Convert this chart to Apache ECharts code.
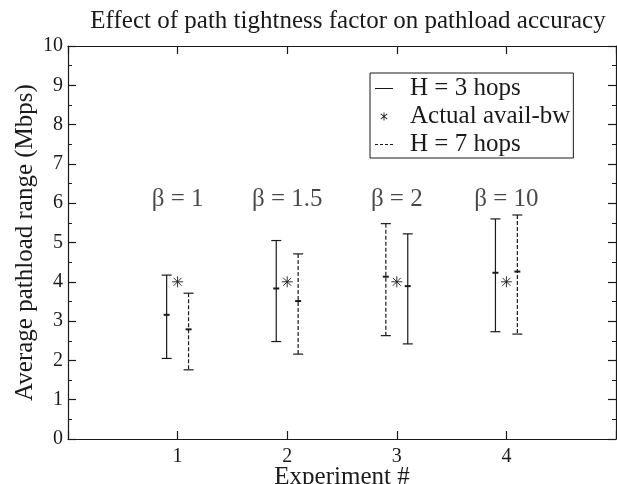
<!DOCTYPE html>
<html>
<head>
<meta charset="utf-8">
<script src="https://cdn.jsdelivr.net/npm/echarts@6/dist/echarts.min.js"></script>
<style>
  html, body { margin: 0; padding: 0; background: #fff; }
  #main { width: 617px; height: 484px; }
</style>
</head>
<body>
<div id="main"></div>
<script>
// 數據
const experiments = [1, 2, 3, 4];
const betaLabels = ['β = 1', 'β = 1.5', 'β = 2', 'β = 10'];
const betaY = [6.1, 6.1, 6.1, 6.1];

// H = 3 hops (實線)
const h3X = [0.9, 1.9, 3.1, 3.9];
const h3Low = [2.05, 2.48, 2.42, 2.73];
const h3Mid = [3.16, 3.83, 3.89, 4.23];
const h3High = [4.17, 5.05, 5.22, 5.60];

// H = 7 hops (虛線)
const h7X = [1.1, 2.1, 2.9, 4.1];
const h7Low = [1.76, 2.16, 2.63, 2.67];
const h7Mid = [2.79, 3.51, 4.13, 4.26];
const h7High = [3.71, 4.71, 5.48, 5.70];

// 實際可用頻寬
const availBw = [4.0, 4.0, 4.0, 4.0];

const yTicks = [0, 1, 2, 3, 4, 5, 6, 7, 8, 9, 10];

const font = 'Liberation Serif';
const ink = '#1a1a1a';

const myChart = echarts.init(document.getElementById('main'));

// 誤差棒
function errorBar(dashed) {
    return function (params, api) {
        const x = api.value(0);
        const top = api.coord([x, api.value(3)]);
        const mid = api.coord([x, api.value(2)]);
        const bot = api.coord([x, api.value(1)]);
        const style = { stroke: ink, lineWidth: 1.2, lineDash: dashed ? [4, 2] : null };
        const cap = { stroke: ink, lineWidth: 1.2 };
        return {
            type: 'group',
            children: [
                { type: 'line', shape: { x1: top[0], y1: top[1], x2: bot[0], y2: bot[1] }, style: style },
                { type: 'line', shape: { x1: top[0] - 5, y1: top[1], x2: top[0] + 5, y2: top[1] }, style: cap },
                { type: 'line', shape: { x1: bot[0] - 5, y1: bot[1], x2: bot[0] + 5, y2: bot[1] }, style: cap },
                { type: 'line', shape: { x1: mid[0] - 3, y1: mid[1], x2: mid[0] + 3, y2: mid[1] }, style: { stroke: ink, lineWidth: 2 } }
            ]
        };
    };
}

// 星號
function asterisk(params, api) {
    const p = api.coord([api.value(0), api.value(1)]);
    const r = 5.5;
    const d = r * 0.72;
    const s = { stroke: ink, lineWidth: 0.9 };
    return {
        type: 'group',
        children: [
            { type: 'line', shape: { x1: p[0], y1: p[1] - r, x2: p[0], y2: p[1] + r }, style: s },
            { type: 'line', shape: { x1: p[0] - r, y1: p[1], x2: p[0] + r, y2: p[1] }, style: s },
            { type: 'line', shape: { x1: p[0] - d, y1: p[1] - d, x2: p[0] + d, y2: p[1] + d }, style: s },
            { type: 'line', shape: { x1: p[0] - d, y1: p[1] + d, x2: p[0] + d, y2: p[1] - d }, style: s }
        ]
    };
}

const h3Data = h3X.map((x, i) => [x, h3Low[i], h3Mid[i], h3High[i]]);
const h7Data = h7X.map((x, i) => [x, h7Low[i], h7Mid[i], h7High[i]]);
const bwData = experiments.map((x, i) => [x, availBw[i]]);
const betaData = experiments.map((x, i) => [x, betaY[i]]);

const axisLine = { show: true, onZero: false, lineStyle: { color: ink, width: 1.2 } };
const tick = { show: true, inside: true, length: 8, lineStyle: { color: ink, width: 1.2 } };
const minor = { show: true, splitNumber: 2, length: 4, lineStyle: { color: ink, width: 1 } };

const option = {
    animation: false,
    backgroundColor: '#fff',
    title: {
        text: 'Effect of path tightness factor on pathload accuracy',
        left: 343,
        top: 4,
        textAlign: 'center',
        textStyle: { fontFamily: font, fontSize: 25, fontWeight: 'normal', color: ink }
    },
    legend: {
        orient: 'vertical',
        left: 370,
        top: 73,
        padding: [3, 3, 1, 5],
        itemGap: 3,
        itemWidth: 18,
        itemHeight: 8,
        borderColor: ink,
        borderWidth: 1,
        textStyle: { fontFamily: font, fontSize: 25, color: ink, padding: [0, 0, 0, 12] },
        data: [
            { name: 'H = 3 hops', icon: 'path://M0,0h18v1h-18z', itemStyle: { color: ink } },
            { name: 'Actual avail-bw', icon: 'path://M8,0h2v18h-2z M1.2,3.8L2.2,2.1L16.8,14.2L15.8,15.9z M15.8,2.1L16.8,3.8L2.2,15.9L1.2,14.2z', itemStyle: { color: ink } },
            { name: 'H = 7 hops', icon: 'path://M0,0h3v1h-3z M5,0h3v1h-3z M10,0h3v1h-3z M15,0h3v1h-3z', itemStyle: { color: ink } }
        ]
    },
    grid: { left: 68, right: 1, top: 46, bottom: 45, outerBoundsMode: 'none', containLabel: false },
    xAxis: [
        {
            type: 'value', min: 0, max: 5, interval: 1, position: 'bottom',
            name: 'Experiment #', nameLocation: 'middle', nameGap: 26, nameMoveOverlap: false,
            nameTextStyle: { fontFamily: font, fontSize: 25, color: ink },
            axisLine: axisLine, axisTick: tick, splitLine: { show: false },
            axisLabel: {
                fontFamily: font, fontSize: 20, color: ink, margin: 8,
                formatter: v => (v >= 1 && v <= 4 ? String(v) : '')
            }
        },
        {
            type: 'value', min: 0, max: 5, interval: 1, position: 'top',
            axisLine: axisLine, axisTick: tick, axisLabel: { show: false }, splitLine: { show: false }
        }
    ],
    yAxis: [
        {
            type: 'value', min: yTicks[0], max: yTicks[yTicks.length - 1], interval: 1, position: 'left',
            name: 'Average pathload range (Mbps)', nameLocation: 'middle', nameGap: 30, nameMoveOverlap: false,
            nameTextStyle: { fontFamily: font, fontSize: 25, color: ink },
            axisLine: axisLine, axisTick: tick, minorTick: minor, splitLine: { show: false },
            axisLabel: { fontFamily: font, fontSize: 20, color: ink, margin: 5 }
        },
        {
            type: 'value', min: yTicks[0], max: yTicks[yTicks.length - 1], interval: 1, position: 'right',
            axisLine: axisLine, axisTick: tick, minorTick: minor, axisLabel: { show: false }, splitLine: { show: false }
        }
    ],
    series: [
        {
            name: 'H = 3 hops', type: 'custom', data: h3Data,
            renderItem: errorBar(false), encode: { x: 0, y: [1, 2, 3] }, itemStyle: { color: ink }
        },
        {
            name: 'Actual avail-bw', type: 'custom', data: bwData,
            renderItem: asterisk, encode: { x: 0, y: 1 }, itemStyle: { color: ink }
        },
        {
            name: 'H = 7 hops', type: 'custom', data: h7Data,
            renderItem: errorBar(true), encode: { x: 0, y: [1, 2, 3] }, itemStyle: { color: ink }
        },
        {
            name: 'beta', type: 'scatter', data: betaData, symbolSize: 0, silent: true,
            label: {
                show: true, position: 'inside',
                formatter: p => betaLabels[p.dataIndex],
                fontFamily: font, fontSize: 25, color: ink
            }
        }
    ]
};

myChart.setOption(option);
</script>
</body>
</html>
